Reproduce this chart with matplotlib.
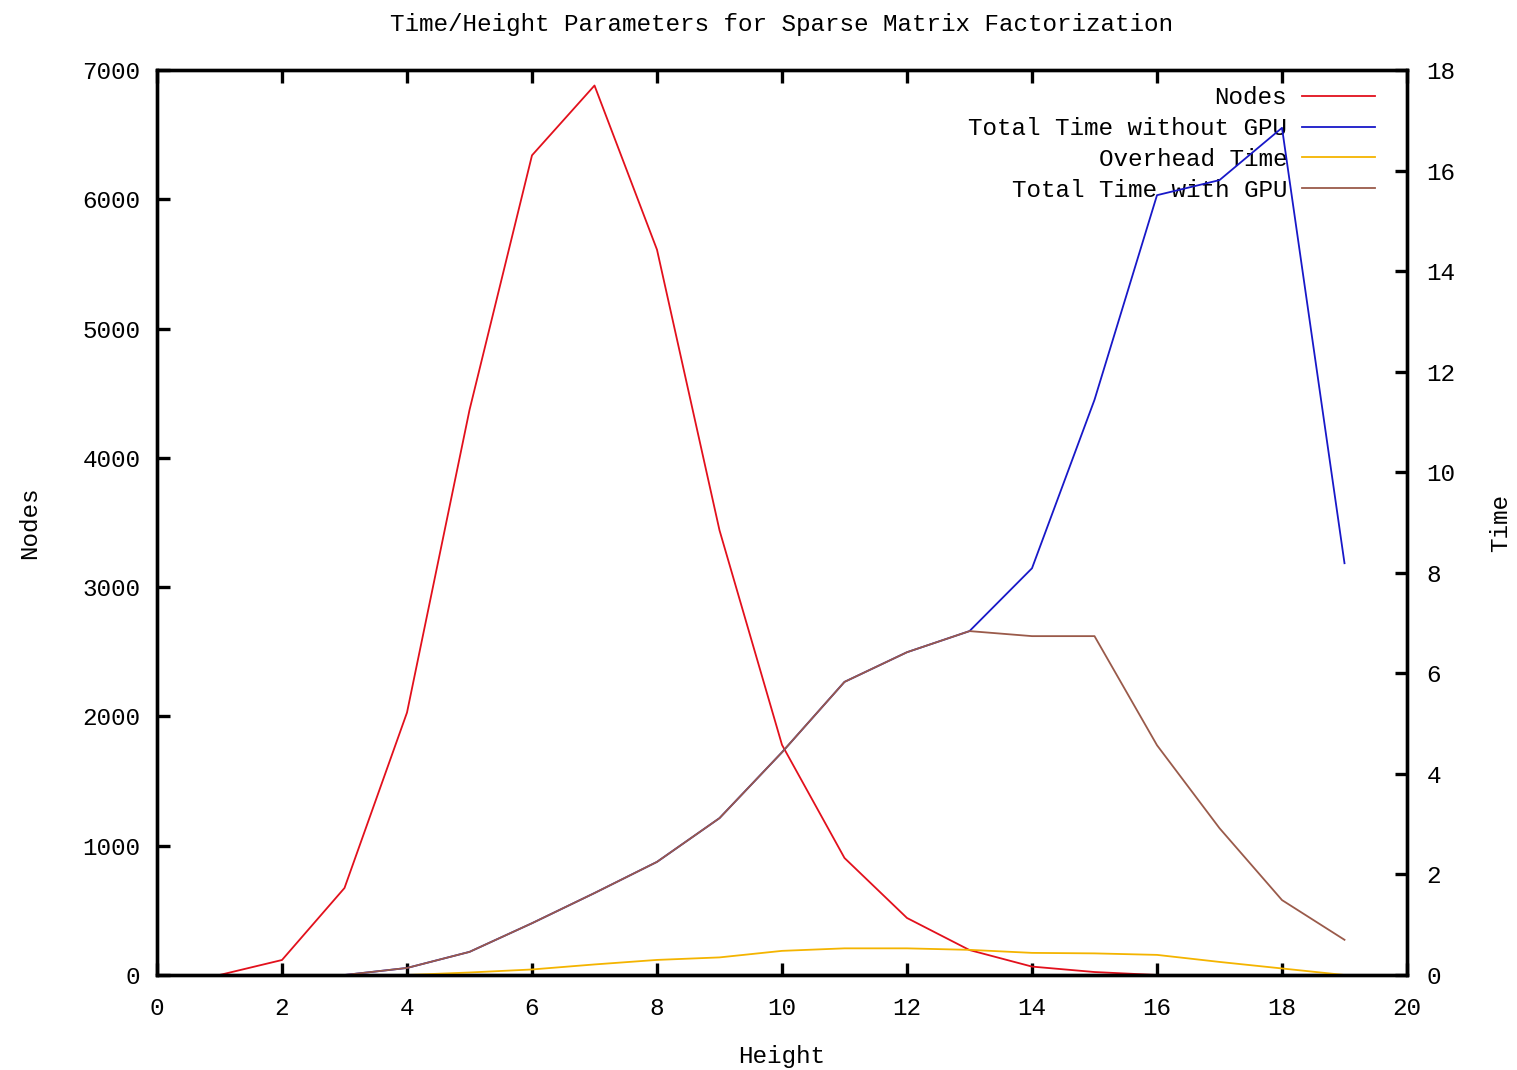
import matplotlib
matplotlib.use("Agg")
import matplotlib.pyplot as plt
import numpy as np

# ---- data ----
node_heights = [1, 2, 3, 4, 5, 6, 7, 8, 9, 10, 11, 12, 13, 14, 15, 16]
nodes = [0, 116, 673, 2030, 4370, 6340, 6880, 5610, 3440, 1780, 905, 441, 193, 65, 23, 0]

time_heights = [3, 4, 5, 6, 7, 8, 9, 10, 11, 12, 13, 14, 15, 16, 17, 18, 19]
time_without_gpu = [0.0, 0.14, 0.46, 1.03, 1.63, 2.25, 3.12, 4.43, 5.83, 6.42, 6.84,
                    8.09, 11.44, 15.51, 15.81, 16.85, 8.19]
time_with_gpu = [0.0, 0.14, 0.46, 1.03, 1.63, 2.25, 3.12, 4.43, 5.83, 6.42, 6.84,
                 6.74, 6.74, 4.57, 2.92, 1.49, 0.70]

overhead_heights = [4, 5, 6, 7, 8, 9, 10, 11, 12, 13, 14, 15, 16, 17, 18, 19]
overhead_time = [0.0, 0.05, 0.11, 0.21, 0.30, 0.35, 0.48, 0.53, 0.53, 0.50,
                 0.44, 0.43, 0.40, 0.26, 0.13, 0.0]

x_ticks = list(range(0, 21, 2))
nodes_ticks = list(range(0, 7001, 1000))
time_ticks = list(range(0, 19, 2))

# ---- style ----
FONT = "Liberation Mono"
FS = 17.5
plt.rcParams["font.family"] = [FONT, "DejaVu Sans Mono"]
plt.rcParams["font.size"] = FS

fig = plt.figure(figsize=(15.17, 10.70), dpi=100)
ax1 = fig.add_axes([157 / 1517, 1 - 975 / 1070, (1407 - 157) / 1517, (975 - 70) / 1070])
ax2 = ax1.twinx()

red = "#e2101c"
blue = "#1818c8"
orange = "#f4b400"
brown = "#9a5a4a"
lw = 1.3

l1, = ax1.plot(node_heights, nodes, color=red, lw=lw, label="Nodes")
l2, = ax2.plot(time_heights, time_without_gpu, color=blue, lw=lw, label="Total Time without GPU")
l3, = ax2.plot(overhead_heights, overhead_time, color=orange, lw=lw, label="Overhead Time")
l4, = ax2.plot(time_heights, time_with_gpu, color=brown, lw=lw, label="Total Time with GPU")

ax1.set_xlim(0, 20)
ax1.set_ylim(0, 7000)
ax2.set_ylim(0, 18)

ax1.set_xticks(x_ticks)
ax1.set_yticks(nodes_ticks)
ax2.set_yticks(time_ticks)

for ax in (ax1, ax2):
    for s in ax.spines.values():
        s.set_linewidth(2.4)
        s.set_color("black")

ax1.tick_params(axis="x", direction="in", length=9, width=2.4, top=True, pad=16, labelsize=FS)
ax1.tick_params(axis="y", direction="in", length=9, width=2.4, right=False, pad=12, labelsize=FS)
ax2.tick_params(axis="y", direction="in", length=9, width=2.4, pad=14, labelsize=FS)

ax1.set_xlabel("Height", fontsize=FS, labelpad=18)
ax1.set_ylabel("Nodes", fontsize=FS, labelpad=30)
ax2.set_ylabel("Time", fontsize=FS, labelpad=24)
ax1.set_title("Time/Height Parameters for Sparse Matrix Factorization", fontsize=FS, pad=28)

leg = ax1.legend(handles=[l1, l2, l3, l4], loc="upper right", frameon=False,
                 bbox_to_anchor=(1 - 13 / 1250, 1 + 3 / 905),
                 markerfirst=False, fontsize=FS, handlelength=3.0, handletextpad=0.6,
                 labelspacing=0.32, borderaxespad=0.4)
for t in leg.get_texts():
    t.set_ha("right")
leg._legend_box.align = "right"

fig.savefig("out.png", dpi=100)
